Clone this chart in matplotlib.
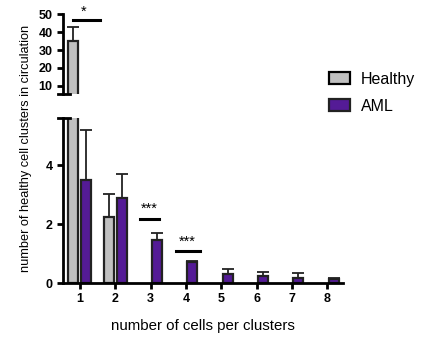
import matplotlib
matplotlib.use("Agg")
import matplotlib.pyplot as plt
import numpy as np
from matplotlib.patches import Patch

plt.rcParams['font.family'] = ['Liberation Sans', 'DejaVu Sans']

categories = [1, 2, 3, 4, 5, 6, 7, 8]
healthy = [35.0, 2.25, 0, 0, 0, 0, 0, 0]
healthy_err = [8.0, 0.77, 0, 0, 0, 0, 0, 0]
aml = [3.5, 2.9, 1.47, 0.72, 0.31, 0.25, 0.18, 0.13]
aml_err = [1.7, 0.8, 0.23, 0.03, 0.16, 0.14, 0.16, 0.03]

c_healthy = '#c0c0c0'
c_aml = '#541b96'
edge = '#222222'

fig = plt.figure(figsize=(4.22, 3.37), dpi=100)
axb = fig.add_axes([0.149, 0.160, 0.664, 0.490])
axt = fig.add_axes([0.149, 0.721, 0.664, 0.237])

x = np.array(categories, dtype=float)
off = 0.185
w = 0.28
top_lo = 5.5

for ax, lo in ((axb, 0.0), (axt, top_lo)):
    h = np.array(healthy); he = np.array(healthy_err)
    a = np.array(aml); ae = np.array(aml_err)
    hm = h > lo
    am = a > lo
    ax.bar(x[hm] - off, h[hm], w, color=c_healthy, edgecolor=edge, linewidth=1.6, zorder=2)
    ax.bar(x[am] + off, a[am], w, color=c_aml, edgecolor=edge, linewidth=1.6, zorder=2)
    if hm.any():
        ax.errorbar(x[hm] - off, h[hm], yerr=[np.zeros(hm.sum()), he[hm]],
                    fmt='none', ecolor=edge, elinewidth=1.3, capsize=4, capthick=1.3, zorder=1)
    if am.any():
        ax.errorbar(x[am] + off, a[am], yerr=[np.zeros(am.sum()), ae[am]],
                    fmt='none', ecolor=edge, elinewidth=1.3, capsize=4, capthick=1.3, zorder=1)
    ax.set_xlim(0.52, 8.45)
    for s in ('top', 'right'):
        ax.spines[s].set_visible(False)
    ax.spines['left'].set_linewidth(2)
    ax.spines['bottom'].set_linewidth(2)
    ax.tick_params(axis='both', width=2, length=4, direction='out')

axb.set_ylim(0, 5.6)
axb.set_yticks([0, 2, 4])
axb.set_yticklabels(['0', '2', '4'], fontweight='bold', fontsize=9)
axb.set_xticks(categories)
axb.set_xticklabels([str(c) for c in categories], fontweight='bold', fontsize=9)
axb.set_xlabel('number of cells per clusters', fontsize=10.8, labelpad=10)

axt.set_ylim(top_lo, 50)
axt.set_yticks([10, 20, 30, 40, 50])
axt.set_yticklabels(['10', '20', '30', '40', '50'], fontweight='bold', fontsize=9)
axt.spines['bottom'].set_visible(False)
axt.set_xticks([])

# broken axis caps
axb.plot([-0.018, 0.025], [1, 1], transform=axb.transAxes, color='black', lw=2, clip_on=False)
axt.plot([-0.018, 0.025], [0, 0], transform=axt.transAxes, color='black', lw=2, clip_on=False)

# significance markers
axt.plot([0.8, 1.58], [46.6, 46.6], color='black', lw=2.2, clip_on=False)
axt.text(1.1, 47.3, '*', ha='center', va='bottom', fontsize=10.5)
axb.plot([2.7, 3.25], [2.19, 2.19], color='black', lw=2.2)
axb.text(2.97, 2.27, '***', ha='center', va='bottom', fontsize=10.5)
axb.plot([3.72, 4.4], [1.08, 1.08], color='black', lw=2.2)
axb.text(4.05, 1.16, '***', ha='center', va='bottom', fontsize=10.5)

fig.text(0.062, 0.561, 'number of healthy cell clusters in circulation', rotation=90,
         ha='center', va='center', fontsize=9.15)

handles = [Patch(facecolor=c_healthy, edgecolor='black', linewidth=1.6, label='Healthy'),
           Patch(facecolor=c_aml, edgecolor=edge, linewidth=1.6, label='AML')]
fig.legend(handles=handles, loc='upper left', bbox_to_anchor=(0.745, 0.83), frameon=False,
           fontsize=11.5, handlelength=1.3, handleheight=0.7, labelspacing=0.75, handletextpad=0.7)

fig.savefig('out.png', dpi=100)
